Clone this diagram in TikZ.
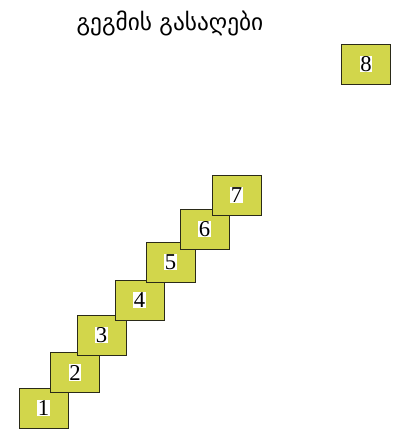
\documentclass[tikz,border=0pt]{standalone}
\usepackage{fontspec}
\setmainfont{Liberation Serif}
\newfontfamily\georgfont[Script=Georgian]{DejaVu Sans}
\definecolor{keyfill}{HTML}{D2D64B}
\definecolor{keyline}{HTML}{2A2A18}

\begin{document}
\begin{tikzpicture}[
  x=0.75pt, y=-0.75pt,
  keybox/.style={draw=keyline, line width=0.75pt, fill=keyfill, minimum width=36.75pt, minimum height=30pt, inner sep=0pt},
  num/.style={fill=white, inner sep=0.6pt, font=\fontsize{17}{19}\selectfont}
]
\useasboundingbox (0,0) rectangle (398,439);

\node[font=\georgfont\fontsize{17.5}{20}\selectfont] (title) at (170,23) {გეგმის გასაღები};

% stairs, drawn bottom to top
\node[keybox] (k1) at (43.5,408) {};
\node[num] (n1) at (k1) {1};
\node[keybox] (k2) at (75,372.5) {};
\node[num] (n2) at (k2) {2};
\node[keybox] (k3) at (101.5,335) {};
\node[num] (n3) at (k3) {3};
\node[keybox] (k4) at (139.5,300) {};
\node[num] (n4) at (k4) {4};
\node[keybox] (k5) at (170.5,262) {};
\node[num] (n5) at (k5) {5};
\node[keybox] (k6) at (204.5,229) {};
\node[num] (n6) at (k6) {6};
\node[keybox] (k7) at (236.5,195) {};
\node[num] (n7) at (k7) {7};

\node[keybox] (k8) at (366,64) {};
\node[num] (n8) at (k8) {8};

\end{tikzpicture}
\end{document}
